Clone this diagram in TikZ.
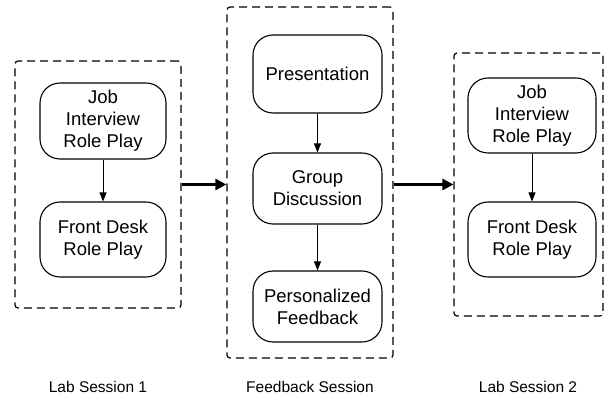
\documentclass[tikz,border=0pt]{standalone}
\usepackage{fontspec}
\setmainfont{Liberation Sans}
\usetikzlibrary{arrows.meta}
\begin{document}
\begin{tikzpicture}[x=1pt,y=-1pt,
  stepbox/.style={draw, line width=1.1pt, rounded corners=20pt, inner sep=0pt, align=center,
    font=\fontsize{18.5}{22}\selectfont},
  groupbox/.style={draw, line width=1.2pt, dash pattern=on 8pt off 5pt, rounded corners=3pt, inner sep=0pt},
  thinarrow/.style={line width=0.8pt, -{Triangle[length=9pt,width=7pt]}},
  thickarrow/.style={line width=2.6pt, -{Triangle[length=11pt,width=11pt]}},
  caption/.style={font=\fontsize{15.5}{18}\selectfont}]
\useasboundingbox (0,0) rectangle (605,403);
% group boxes
\node[groupbox, minimum width=166pt, minimum height=247pt] (lab1) at (98,184.5) {};
\node[groupbox, minimum width=166pt, minimum height=351pt] (fb) at (310,182.5) {};
\node[groupbox, minimum width=149pt, minimum height=263pt] (lab2) at (528.5,184.5) {};
% steps
\node[stepbox, minimum width=126pt, minimum height=76pt] (job1) at (103,121) {Job\\Interview\\Role Play};
\node[stepbox, minimum width=126pt, minimum height=75pt] (fd1) at (103,239.5) {Front Desk\\Role Play};
\node[stepbox, minimum width=129pt, minimum height=78pt] (pres) at (317.5,74) {Presentation};
\node[stepbox, minimum width=129pt, minimum height=71pt] (gd) at (317.5,188.5) {Group\\Discussion};
\node[stepbox, minimum width=129pt, minimum height=71pt] (pf) at (317.5,306.5) {Personalized\\Feedback};
\node[stepbox, minimum width=128pt, minimum height=75pt] (job2) at (532,115.5) {Job\\Interview\\Role Play};
\node[stepbox, minimum width=128pt, minimum height=75pt] (fd2) at (532,239.5) {Front Desk\\Role Play};
% captions
\node[caption] (c1) at (98,387) {Lab Session 1};
\node[caption] (c2) at (310,387) {Feedback Session};
\node[caption] (c3) at (528,387) {Lab Session 2};
% arrows
\draw[thinarrow] (job1) -- (fd1);
\draw[thinarrow] (pres) -- (gd);
\draw[thinarrow] (gd) -- (pf);
\draw[thinarrow] (job2) -- (fd2);
\draw[thickarrow] (lab1.east) -- (lab1.east -| fb.west);
\draw[thickarrow] (fb.east |- lab1.east) -- (lab2.west);
\end{tikzpicture}
\end{document}
